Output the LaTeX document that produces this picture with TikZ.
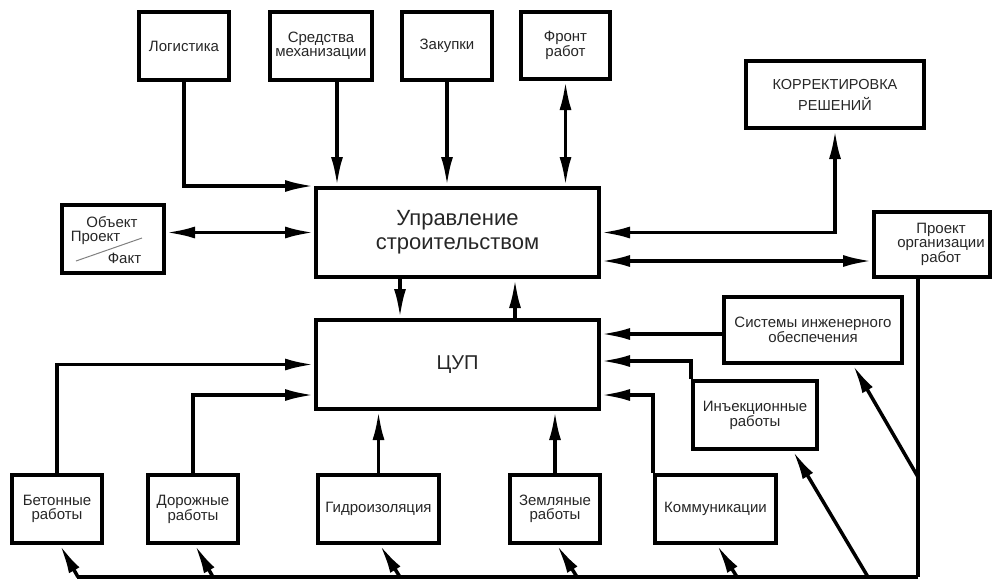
\documentclass[tikz,border=0pt]{standalone}
\usepackage{fontspec}
\setmainfont{Liberation Sans}
\usetikzlibrary{arrows.meta}
\begin{document}
\begin{tikzpicture}[x=1pt,y=-1pt,
  box/.style={draw, line width=4pt, inner sep=0pt, align=center,
    font=\fontsize{15}{13.5}\selectfont, text=black!85},
  lbl/.style={inner sep=0pt, font=\fontsize{15}{15}\selectfont, text=black!85},
  ln/.style={line width=3.5pt},
  ar/.style={ln, -{Latex[length=29pt,width=12pt]}},
  dar/.style={ln, {Latex[length=29pt,width=12pt]}-{Latex[length=29pt,width=12pt]}}]
\useasboundingbox (0,0) rectangle (992,579);
% top row
\node[box, minimum width=90pt, minimum height=68pt] (log) at (184,46) {Логистика};
\node[box, minimum width=102pt, minimum height=68pt] (mech) at (321,46) {Средства\\механизации};
\node[box, minimum width=90pt, minimum height=68pt] (zak) at (447,46) {Закупки};
\node[box, minimum width=89pt, minimum height=67pt] (front) at (565.5,45.5) {Фронт\\работ};
\node[box, minimum width=178pt, minimum height=67pt, font=\fontsize{14.5}{21}\selectfont] (korr) at (835,94.5) {КОРРЕКТИРОВКА\\РЕШЕНИЙ};
% centre
\node[box, minimum width=283pt, minimum height=89pt, font=\fontsize{22}{24}\selectfont] (upr) at (457.5,232.5) {Управление\\строительством};
\node[box, minimum width=283pt, minimum height=89pt, font=\fontsize{20}{24}\selectfont] (cup) at (457.5,364.5) {ЦУП};
% object box
\node[box, minimum width=102pt, minimum height=68pt] (obj) at (113,239) {};
\node[lbl] (objA) at (112,222) {Объект};
\node[lbl] (objB) at (95.5,238) {Проект};
\node[lbl] (objC) at (124.5,258) {Факт};
\coordinate (g1) at (76,261);
\coordinate (g2) at (142,238);
\draw[gray, line width=1pt] (g1) -- (g2);
% right side
\node[box, minimum width=116pt, minimum height=65pt] (proj) at (932,244.5) {};
\node[lbl, align=center, font=\fontsize{15}{14}\selectfont] (projt) at (941,244) {Проект\\организации\\работ};
\node[box, minimum width=178pt, minimum height=66pt] (sys) at (813,330) {Системы инженерного\\обеспечения};
\node[box, minimum width=124pt, minimum height=68pt] (inj) at (755,415) {Инъекционные\\работы};
% bottom row
\node[box, minimum width=90pt, minimum height=68pt] (bet) at (57,509) {Бетонные\\работы};
\node[box, minimum width=90pt, minimum height=68pt] (dor) at (193,509) {Дорожные\\работы};
\node[box, minimum width=121pt, minimum height=68pt] (gid) at (378.5,509) {Гидроизоляция};
\node[box, minimum width=90pt, minimum height=68pt] (zem) at (555,509) {Земляные\\работы};
\node[box, minimum width=121pt, minimum height=68pt] (kom) at (715.5,509) {Коммуникации};
% top connectors
\draw[ar] (log.south) |- (upr.north west);
\coordinate (m1) at ([xshift=16pt]mech.south);
\draw[ar] (m1) -- (m1 |- upr.north);
\draw[ar] (zak.south) -- (zak.south |- upr.north);
\draw[dar] (front.south) -- (front.south |- upr.north);
\draw[dar] (upr.east) -| (korr.south);
\path (upr.east) ++(0,28.5) coordinate (p1);
\draw[dar] (p1) -- (p1 -| proj.west);
\draw[dar] (upr.west) -- (upr.west -| obj.east);
% upr <-> cup
\coordinate (u1) at ([xshift=-57.5pt]upr.south);
\coordinate (u2) at ([xshift=57.5pt]cup.north);
\draw[ar] (u1) -- (u1 |- cup.north);
\draw[ar] (u2) -- (u2 |- upr.south);
% into cup from right
\coordinate (s1) at ([yshift=-4pt]sys.west);
\draw[ar] (s1) -- (s1 -| cup.east);
\draw[ar] (inj.north west) -- ++(0,-18) coordinate (i1) -- (i1 -| cup.east);
\draw[ar] (kom.north west) -- ++(0,-78) coordinate (k1) -- (k1 -| cup.east);
% into cup from left and below
\draw[ar] (bet.north) |- (cup.west);
\coordinate (c2) at ([yshift=-30.5pt]cup.west);
\draw[ar] (dor.north) |- (c2);
\draw[ar] (gid.north) -- (gid.north |- cup.south);
\draw[ar] (zem.north) -- (zem.north |- cup.south);
% feedback network
\coordinate (v0) at ([xshift=-14pt]proj.south);
\coordinate (vb) at (918,577);
\coordinate (bl) at (77,577);
\draw[ln, line width=4pt] (v0) -- (vb);
\draw[ln] (vb) -- (bl);
\coordinate (f1) at (78,577);
\coordinate (f2) at (213,577);
\coordinate (f3) at (400,577);
\coordinate (f4) at (577,577);
\coordinate (f5) at (737,577);
\coordinate (f6) at (868,577);
\coordinate (f7) at (918,477);
\draw[ar] (f1) -- ([xshift=3pt]bet.south);
\draw[ar] (f2) -- ([xshift=2pt]dor.south);
\draw[ar] (f3) -- ([xshift=1.5pt]gid.south);
\draw[ar] (f4) -- ([xshift=2pt]zem.south);
\draw[ar] (f5) -- ([xshift=1.5pt]kom.south);
\draw[ar] (f6) -- ([xshift=38pt]inj.south);
\draw[ar] (f7) -- ([xshift=40pt]sys.south);
\end{tikzpicture}
\end{document}
